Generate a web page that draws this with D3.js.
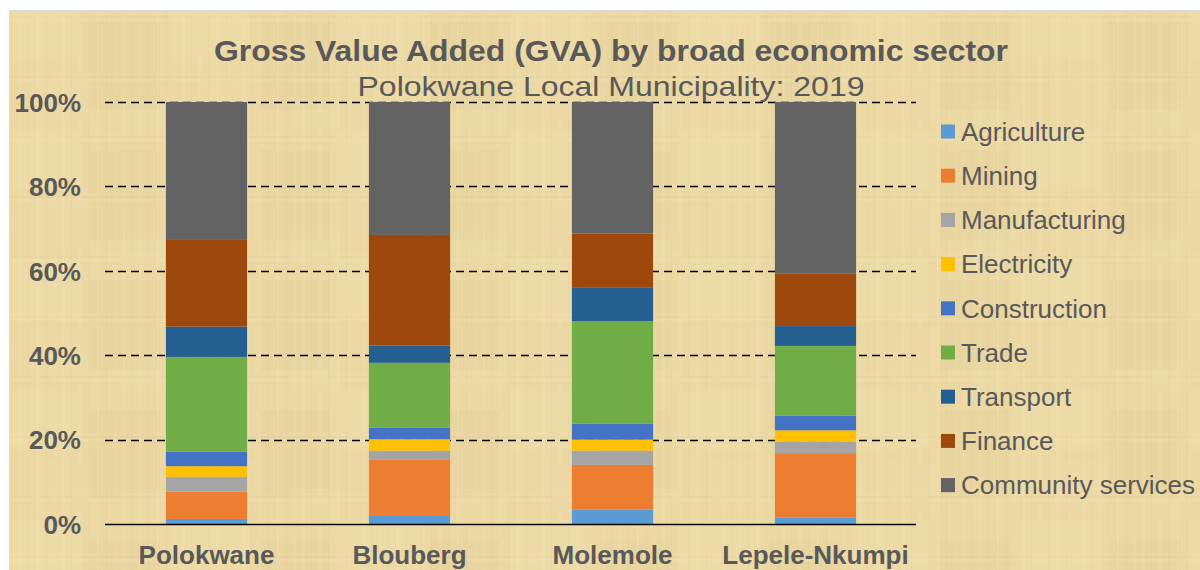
<!DOCTYPE html>
<html><head><meta charset="utf-8">
<script src="https://cdn.jsdelivr.net/npm/d3@7"></script>
<style>html,body{margin:0;padding:0;background:#fff;}svg{display:block;}</style>
</head><body>
<svg id="chart" width="1200" height="570"></svg>
<script>
const categories = ["Polokwane", "Blouberg", "Molemole", "Lepele-Nkumpi"];
const sectors = ["Agriculture","Mining","Manufacturing","Electricity","Construction","Trade","Transport","Finance","Community services"];
const agriculture = [1.2, 2.1, 3.4, 1.5];
const mining = [6.5, 13.1, 10.6, 15.3];
const manufacturing = [3.5, 2.2, 3.4, 2.7];
const electricity = [2.5, 2.7, 2.6, 2.7];
const construction = [3.4, 2.7, 3.8, 3.5];
const trade = [22.5, 15.4, 24.3, 16.5];
const transport = [7.2, 4.1, 8.0, 4.7];
const finance = [20.7, 26.2, 12.7, 12.5];
const community = [32.5, 31.5, 31.2, 40.6];
const yTicks = [0, 20, 40, 60, 80, 100];
const colors = ["#5B9BD5","#ED7D31","#A5A5A5","#FFC000","#4472C4","#70AD47","#255E91","#9E480E","#636363"];

const seriesValues = [agriculture, mining, manufacturing, electricity, construction, trade, transport, finance, community];
const rows = categories.map((c, i) => {
  const r = {cat: c};
  sectors.forEach((s, j) => r[s] = seriesValues[j][i]);
  return r;
});
const stack = d3.stack().keys(sectors).offset(d3.stackOffsetExpand)(rows);

const svg = d3.select("#chart");
const defs = svg.append("defs");
// papyrus-like texture
const pat = defs.append("pattern").attr("id","tex").attr("patternUnits","userSpaceOnUse").attr("width",60).attr("height",60);
pat.append("rect").attr("width",60).attr("height",60).attr("fill","#EBD8A3");
[[3,1.5,"#F3E3B8",0.45],[11,1,"#DCC68E",0.25],[19,2,"#F1E0B0",0.35],[28,1,"#DDC78F",0.25],[37,1.5,"#F4E6BD",0.35],[46,1,"#D9C288",0.2],[54,2,"#F0DEAD",0.3]].forEach(([p,w,c,o])=>{
  pat.append("rect").attr("x",p).attr("y",0).attr("width",w).attr("height",60).attr("fill",c).attr("opacity",o);
  pat.append("rect").attr("x",0).attr("y",(p*7)%60).attr("width",60).attr("height",w).attr("fill",c).attr("opacity",o*0.7);
});
const pat2 = defs.append("pattern").attr("id","tex2").attr("patternUnits","userSpaceOnUse").attr("width",170).attr("height",130);
[[0,0,80,60,"#F5E6BE",0.16],[90,20,70,90,"#D8C287",0.1],[30,70,60,50,"#F3E0B0",0.14],[120,100,50,30,"#F5E7C2",0.12]].forEach(([x,y,w,h,c,o])=>{
  pat2.append("rect").attr("x",x).attr("y",y).attr("width",w).attr("height",h).attr("fill",c).attr("opacity",o);
});

svg.append("rect").attr("x",0).attr("y",0).attr("width",1200).attr("height",570).attr("fill","#fff");
svg.append("rect").attr("x",9).attr("y",10).attr("width",1191).attr("height",560).attr("fill","url(#tex)");
svg.append("rect").attr("x",9).attr("y",10).attr("width",1191).attr("height",560).attr("fill","url(#tex2)");
svg.append("line").attr("x1",9).attr("x2",1200).attr("y1",10.5).attr("y2",10.5).attr("stroke","#D9D9D9").attr("stroke-width",1);
svg.append("line").attr("x1",9.5).attr("x2",9.5).attr("y1",10).attr("y2",570).attr("stroke","#D9D9D9").attr("stroke-width",1);

const x = d3.scaleBand().domain(categories).range([105, 917]).paddingInner(0.6).paddingOuter(0.3);
const y = d3.scaleLinear().domain([0, 1]).range([524, 102]);
const textColor = "#595959";
const font = "'Liberation Sans', Arial, sans-serif";

// gridlines
svg.append("g").selectAll("line").data(yTicks.filter(t => t > 0)).join("line")
  .attr("x1", 105).attr("x2", 916)
  .attr("y1", d => Math.round(y(d/100)) + 0.5).attr("y2", d => Math.round(y(d/100)) + 0.5)
  .attr("stroke", "#000").attr("stroke-width", 1.5).attr("stroke-dasharray", "8,5");

// bars
svg.append("g").selectAll("g").data(stack).join("g")
  .attr("fill", (d, i) => colors[i])
  .selectAll("rect").data(d => d).join("rect")
  .attr("x", d => x(d.data.cat))
  .attr("width", x.bandwidth())
  .attr("y", d => y(d[1]))
  .attr("height", d => y(d[0]) - y(d[1]));

// baseline
svg.append("line").attr("x1",105).attr("x2",916).attr("y1",524.5).attr("y2",524.5).attr("stroke","#000").attr("stroke-width",1.5);

// y axis labels
const yAxis = d3.axisLeft(y).tickValues(yTicks.map(t => t/100)).tickFormat(d => Math.round(d*100) + "%").tickSize(0).tickPadding(0);
const ya = svg.append("g").attr("transform","translate(81,0)").call(yAxis);
ya.select(".domain").remove();
ya.selectAll("text").attr("font-family", font).attr("font-size", 26).attr("font-weight","bold").attr("fill", textColor).attr("dy","0.36em");

// x axis labels
const xAxis = d3.axisBottom(x).tickSize(0).tickPadding(0);
const xa = svg.append("g").attr("transform","translate(0,564)").call(xAxis);
xa.select(".domain").remove();
xa.selectAll("text").attr("font-family", font).attr("font-size", 26).attr("font-weight","bold").attr("fill", textColor).attr("dy","0");

// title
svg.append("text").attr("x", 611).attr("y", 61).attr("text-anchor","middle")
  .attr("font-family", font).attr("font-size", 30).attr("font-weight","bold").attr("fill", textColor)
  .attr("textLength", 794).attr("lengthAdjust","spacingAndGlyphs")
  .text("Gross Value Added (GVA) by broad economic sector");
svg.append("text").attr("x", 611).attr("y", 96).attr("text-anchor","middle")
  .attr("font-family", font).attr("font-size", 28).attr("fill", textColor)
  .attr("textLength", 507).attr("lengthAdjust","spacingAndGlyphs")
  .text("Polokwane Local Municipality: 2019");

// legend
const lg = svg.append("g").selectAll("g").data(sectors).join("g")
  .attr("transform", (d, i) => `translate(941, ${131.5 + i * 44.2})`);
lg.append("rect").attr("x",0).attr("y",-7).attr("width",14).attr("height",14).attr("fill",(d,i)=>colors[i]);
lg.append("text").attr("x",20).attr("y",0).attr("dy","0.36em")
  .attr("font-family", font).attr("font-size", 26).attr("fill", textColor).text(d => d);
</script>
</body></html>
